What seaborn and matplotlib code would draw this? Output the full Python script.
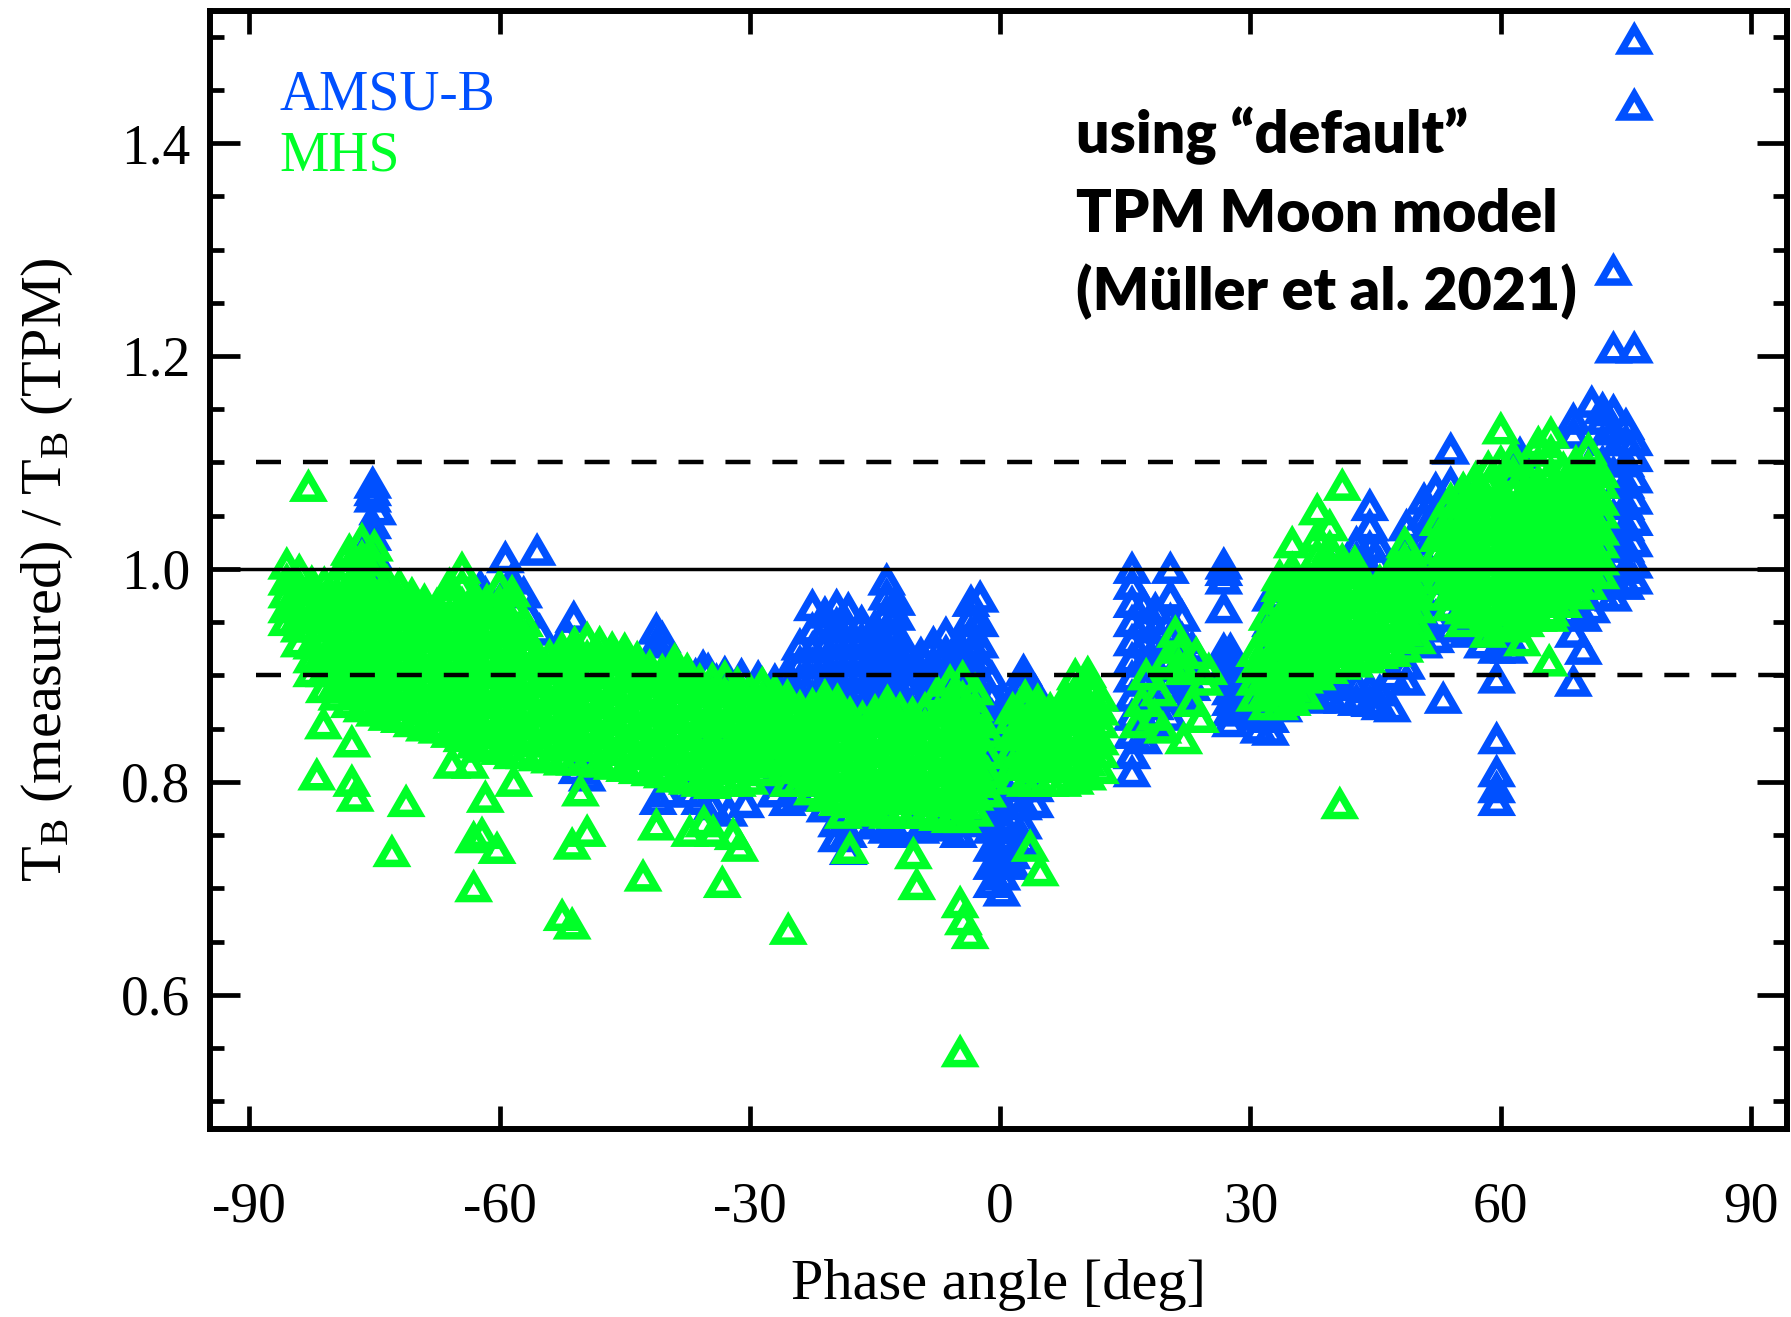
import matplotlib
matplotlib.use("Agg")
import matplotlib.pyplot as plt
from matplotlib.path import Path
from matplotlib.ticker import MultipleLocator, FormatStrFormatter
import pandas as pd
import seaborn as sns

# ---------------------------------------------------------------------------
# Moon intrusions: phase angle [deg] of each event and the T_B ratios
# (measured / TPM) obtained at that phase angle.
# ---------------------------------------------------------------------------
amsu_phase = [
    -75.2, -74.6,
    -27.0, -25.5, -24.0, -22.5, -21.0, -19.6, -18.2, -16.6, -15.0, -13.6,
    -12.4, -11.0, -9.5, -8.0, -6.5, -5.0, -3.5, -2.4, -1.0, 0.2, 1.4, 2.8, 4.2,
    15.8, 17.2, 18.6, 20.4, 21.8, 23.0, 26.8, 27.6, 28.6,
    31.0, 32.4, 34.0, 36.0, 38.0, 39.5, 41.0, 42.7, 44.3, 45.5, 47.0, 48.7,
    50.8, 52.2, 54.0, 56.0, 57.8, 59.5, 61.0, 62.3,
    68.7, 69.9, 70.9, 72.2, 73.5, 75.0, 76.0,
]
amsu_ratio = [
    [0.992, 1.000, 1.015, 1.031, 1.042, 1.067, 1.073, 1.080],
    [0.996, 1.055],
    [0.790, 0.805, 0.880, 0.895],
    [0.782, 0.800, 0.886, 0.902],
    [0.786, 0.880, 0.896, 0.912, 0.928],
    [0.800, 0.880, 0.895, 0.910, 0.925, 0.943, 0.965],
    [0.776, 0.880, 0.896, 0.912, 0.928, 0.944, 0.958],
    [0.748, 0.762, 0.885, 0.900, 0.916, 0.932, 0.948, 0.965],
    [0.736, 0.752, 0.770, 0.880, 0.896, 0.912, 0.928, 0.944, 0.962],
    [0.760, 0.870, 0.886, 0.902, 0.918, 0.934, 0.950],
    [0.762, 0.870, 0.886, 0.902, 0.918, 0.934, 0.946],
    [0.756, 0.880, 0.896, 0.912, 0.928, 0.944, 0.960, 0.975, 0.989],
    [0.752, 0.876, 0.892, 0.908, 0.924, 0.940, 0.956, 0.970],
    [0.760, 0.872, 0.888, 0.904, 0.918],
    [0.756, 0.872, 0.888, 0.904, 0.920],
    [0.760, 0.880, 0.896, 0.912, 0.930],
    [0.758, 0.890, 0.906, 0.922, 0.939],
    [0.752, 0.900, 0.915, 0.930],
    [0.762, 0.892, 0.908, 0.924, 0.940, 0.955, 0.969],
    [0.775, 0.860, 0.880, 0.900, 0.915, 0.930, 0.950, 0.973],
    [0.705, 0.722, 0.739, 0.756, 0.772, 0.790, 0.808, 0.826, 0.844, 0.862, 0.880, 0.898],
    [0.697, 0.712, 0.728, 0.745, 0.762, 0.780, 0.798, 0.816, 0.834, 0.852, 0.870],
    [0.722, 0.732, 0.748, 0.765, 0.785, 0.802, 0.820, 0.840, 0.860, 0.878],
    [0.745, 0.760, 0.778, 0.795, 0.862, 0.878, 0.892, 0.904],
    [0.780, 0.795, 0.870, 0.885],
    [0.809, 0.826, 0.845, 0.862, 0.880, 0.898, 0.915, 0.932, 0.950, 0.968, 0.985, 1.000],
    [0.840, 0.858, 0.876, 0.894, 0.912, 0.930, 0.948, 0.966],
    [0.855, 0.872, 0.890, 0.908, 0.926, 0.944, 0.962],
    [0.862, 0.880, 0.898, 0.916, 0.934, 0.952, 0.974, 1.000],
    [0.880, 0.898, 0.916, 0.934, 0.955],
    [0.890, 0.908, 0.926],
    [0.905, 0.924, 0.963, 0.990, 0.998, 1.004],
    [0.856, 0.866, 0.876, 0.886, 0.896, 0.906, 0.916, 0.924],
    [0.870, 0.885, 0.900],
    [0.850, 0.862, 0.875, 0.888, 0.900],
    [0.848, 0.860, 0.880, 0.900, 0.925, 0.950, 0.974],
    [0.870, 0.885, 0.900, 0.935, 0.952],
    [0.880, 0.895, 0.960, 0.972],
    [0.878, 0.892, 0.975, 0.990],
    [0.880, 0.895, 1.005],
    [0.878, 0.890, 1.000],
    [0.876, 0.890, 1.010, 1.024],
    [0.875, 0.888, 1.000, 1.020, 1.040, 1.059],
    [0.872, 0.885, 1.005, 1.020],
    [0.870, 0.900, 0.995],
    [0.895, 0.910, 1.020, 1.040],
    [0.930, 0.950, 0.970, 0.990, 1.010, 1.030, 1.050, 1.065],
    [0.935, 0.955, 0.975, 0.995, 1.015, 1.035, 1.055, 1.075],
    [0.945, 0.965, 1.060, 1.080, 1.112],
    [0.940, 0.955, 1.070],
    [0.930, 0.945],
    [0.782, 0.794, 0.809, 0.840, 0.897, 0.925, 0.940],
    [0.925, 0.935],
    [1.095, 1.108],
    [0.894, 0.940, 0.960, 1.127, 1.140],
    [0.924, 0.955, 0.975],
    [0.963, 0.985, 1.156],
    [0.975, 0.990, 1.005, 1.020, 1.040, 1.060, 1.080, 1.100, 1.120, 1.140, 1.150],
    [0.974, 0.990, 1.010, 1.030, 1.050, 1.070, 1.090, 1.110, 1.130, 1.148, 1.207, 1.280],
    [0.985, 1.000, 1.020, 1.040, 1.060, 1.080, 1.100, 1.120, 1.135],
    [0.990, 1.005, 1.025, 1.045, 1.065, 1.085, 1.105, 1.120, 1.207, 1.435, 1.497],
]
# isolated AMSU-B measurements
amsu_single_phase = [
    -62.3, -61.7, -60.7, -60.0, -59.3, -58.5, -57.1, -56.5, -55.5, -55.2,
    -52.0, -51.1, -50.7, -49.5, -41.2, -41.2, -41.0, -41.0, -40.5, -40.0,
    -39.5, -37.0, -36.5, -36.0, -35.6, -35.0, -35.0, -34.5, -34.0, -34.0,
    -33.0, -33.0, -32.5, -31.0, -30.5, -29.0, 53.1,
]
amsu_single_ratio = [
    0.983, 0.977, 0.966, 0.958, 1.010, 0.990, 0.977, 0.958, 1.017, 0.942,
    0.940, 0.954, 0.812, 0.805, 0.930, 0.943, 0.783, 0.918, 0.935, 0.790,
    0.914, 0.790, 0.900, 0.783, 0.908, 0.860, 0.905, 0.778, 0.850, 0.895,
    0.885, 0.902, 0.772, 0.900, 0.780, 0.898, 0.878,
]

mhs_phase = [
    -85.5, -84.0, -82.5, -81.0, -79.5, -78.0, -76.5, -75.0, -73.5, -72.0,
    -70.5, -69.0, -67.5, -66.0, -64.5, -63.0, -61.5, -60.0, -58.5, -57.0,
    -55.5, -54.0, -52.5, -51.0, -49.5, -48.0, -46.5, -45.0, -43.5, -42.0,
    -40.5, -39.0, -37.5, -36.0, -34.5, -33.0, -31.5, -30.0, -28.5, -27.0,
    -25.5, -24.0, -22.5, -21.0, -19.5, -18.0, -16.5, -15.0, -13.5, -12.0,
    -10.5, -9.0, -7.5, -6.0, -4.5, -3.0, -1.5, 1.5, 3.0, 4.5,
    6.0, 7.5, 9.0, 10.5, 12.0,
    30.5, 32.0, 33.5, 35.0, 36.5, 38.0, 39.5, 41.0, 42.5, 44.0,
    45.5, 47.0, 48.5, 50.0,
    52.5, 54.0, 55.5, 57.0, 58.5, 60.0, 61.5, 63.0, 64.5, 66.0,
    67.5, 69.0, 70.5, 72.0,
]
mhs_ratio = [
    [0.951, 0.963, 0.977, 0.989, 1.004],
    [0.931, 0.945, 0.956, 0.971, 0.983, 0.998],
    [0.903, 0.916, 0.929, 0.945, 0.957, 0.972, 0.987],
    [0.888, 0.903, 0.916, 0.932, 0.945, 0.961, 0.972, 0.986],
    [0.881, 0.893, 0.909, 0.921, 0.937, 0.949, 0.965, 0.977, 0.992],
    [0.874, 0.889, 0.901, 0.917, 0.929, 0.945, 0.957, 0.973, 0.985, 1.003, 1.017],
    [0.870, 0.883, 0.899, 0.911, 0.927, 0.939, 0.955, 0.967, 0.983, 0.995, 1.011, 1.027],
    [0.866, 0.881, 0.893, 0.909, 0.921, 0.937, 0.949, 0.965, 0.977, 0.993, 1.007, 1.021],
    [0.862, 0.875, 0.891, 0.903, 0.919, 0.931, 0.947, 0.959, 0.975, 0.988],
    [0.860, 0.873, 0.889, 0.901, 0.917, 0.929, 0.945, 0.957, 0.971, 0.984],
    [0.856, 0.871, 0.883, 0.899, 0.911, 0.927, 0.939, 0.955, 0.965, 0.976],
    [0.852, 0.867, 0.879, 0.895, 0.907, 0.923, 0.935, 0.951, 0.961, 0.970],
    [0.850, 0.863, 0.879, 0.891, 0.907, 0.919, 0.935, 0.947, 0.959, 0.966],
    [0.846, 0.861, 0.873, 0.889, 0.901, 0.917, 0.929, 0.945, 0.957, 0.973, 0.985],
    [0.842, 0.855, 0.871, 0.883, 0.899, 0.911, 0.927, 0.939, 0.955, 0.967, 0.984, 1.000],
    [0.836, 0.851, 0.863, 0.879, 0.891, 0.907, 0.919, 0.935, 0.947, 0.963, 0.975],
    [0.832, 0.845, 0.861, 0.873, 0.889, 0.901, 0.917, 0.929, 0.945, 0.957, 0.970],
    [0.830, 0.845, 0.857, 0.873, 0.885, 0.901, 0.913, 0.929, 0.941, 0.957, 0.969, 0.984],
    [0.826, 0.839, 0.855, 0.867, 0.883, 0.895, 0.911, 0.923, 0.939, 0.951, 0.967, 0.978],
    [0.826, 0.841, 0.853, 0.869, 0.881, 0.897, 0.909, 0.925, 0.937, 0.950],
    [0.824, 0.837, 0.853, 0.865, 0.881, 0.893, 0.909, 0.920],
    [0.822, 0.837, 0.849, 0.865, 0.877, 0.893, 0.905, 0.918],
    [0.820, 0.833, 0.849, 0.861, 0.877, 0.889, 0.905, 0.915, 0.925],
    [0.820, 0.835, 0.847, 0.863, 0.875, 0.891, 0.903, 0.919, 0.930],
    [0.820, 0.833, 0.849, 0.861, 0.877, 0.889, 0.905, 0.917, 0.934],
    [0.818, 0.833, 0.845, 0.861, 0.873, 0.889, 0.901, 0.917, 0.930],
    [0.816, 0.829, 0.845, 0.857, 0.873, 0.885, 0.901, 0.913, 0.925],
    [0.814, 0.829, 0.841, 0.857, 0.869, 0.885, 0.897, 0.913, 0.924],
    [0.812, 0.825, 0.841, 0.853, 0.869, 0.881, 0.897, 0.909, 0.916],
    [0.810, 0.825, 0.837, 0.853, 0.865, 0.881, 0.893, 0.908],
    [0.808, 0.821, 0.837, 0.849, 0.865, 0.877, 0.893, 0.904],
    [0.804, 0.819, 0.831, 0.847, 0.859, 0.875, 0.887, 0.903, 0.914],
    [0.802, 0.815, 0.831, 0.843, 0.859, 0.871, 0.887, 0.898, 0.905],
    [0.800, 0.815, 0.827, 0.843, 0.855, 0.871, 0.883, 0.895],
    [0.798, 0.811, 0.827, 0.839, 0.855, 0.867, 0.883, 0.896],
    [0.800, 0.815, 0.827, 0.843, 0.855, 0.871, 0.883, 0.898],
    [0.800, 0.813, 0.829, 0.841, 0.857, 0.869, 0.885, 0.892],
    [0.802, 0.817, 0.829, 0.845, 0.857, 0.873, 0.886],
    [0.810, 0.823, 0.839, 0.851, 0.867, 0.879, 0.892],
    [0.820, 0.835, 0.847, 0.863, 0.875, 0.885],
    [0.812, 0.825, 0.841, 0.853, 0.869, 0.880],
    [0.800, 0.815, 0.827, 0.843, 0.855, 0.870],
    [0.792, 0.805, 0.821, 0.833, 0.849, 0.861, 0.872],
    [0.786, 0.801, 0.813, 0.829, 0.841, 0.857, 0.869, 0.880],
    [0.782, 0.795, 0.811, 0.823, 0.839, 0.851, 0.867, 0.876],
    [0.780, 0.795, 0.807, 0.823, 0.835, 0.851, 0.864],
    [0.776, 0.789, 0.805, 0.817, 0.833, 0.845, 0.860],
    [0.772, 0.787, 0.799, 0.815, 0.827, 0.843, 0.855, 0.866],
    [0.770, 0.783, 0.799, 0.811, 0.827, 0.839, 0.855, 0.867, 0.875],
    [0.770, 0.785, 0.797, 0.813, 0.825, 0.841, 0.853, 0.868],
    [0.770, 0.783, 0.799, 0.811, 0.827, 0.839, 0.855, 0.864],
    [0.770, 0.785, 0.797, 0.813, 0.825, 0.841, 0.853, 0.868],
    [0.768, 0.781, 0.797, 0.809, 0.825, 0.837, 0.853, 0.865, 0.884],
    [0.766, 0.781, 0.793, 0.809, 0.821, 0.837, 0.849, 0.865, 0.877, 0.894],
    [0.766, 0.779, 0.795, 0.807, 0.823, 0.835, 0.851, 0.863, 0.879, 0.898],
    [0.772, 0.787, 0.799, 0.815, 0.827, 0.843, 0.855, 0.871, 0.886],
    [0.790, 0.808, 0.826, 0.846],
    [0.802, 0.815, 0.831, 0.843, 0.859, 0.868],
    [0.800, 0.815, 0.827, 0.843, 0.855, 0.871, 0.880],
    [0.800, 0.813, 0.829, 0.841, 0.857, 0.869, 0.876],
    [0.800, 0.815, 0.827, 0.843, 0.855, 0.868],
    [0.800, 0.813, 0.829, 0.841, 0.857, 0.869, 0.876],
    [0.802, 0.817, 0.829, 0.845, 0.857, 0.873, 0.885, 0.900],
    [0.806, 0.819, 0.835, 0.847, 0.863, 0.875, 0.891, 0.902],
    [0.812, 0.827, 0.839, 0.855, 0.867, 0.880],
    [0.880, 0.895, 0.907, 0.922],
    [0.872, 0.885, 0.901, 0.913, 0.929, 0.941, 0.956],
    [0.872, 0.887, 0.899, 0.915, 0.927, 0.943, 0.955, 0.971, 0.983, 0.993],
    [0.876, 0.889, 0.905, 0.917, 0.933, 0.945, 0.961, 0.973, 0.987, 1.000, 1.024],
    [0.882, 0.897, 0.909, 0.925, 0.937, 0.953, 0.965, 0.979, 0.992],
    [0.900, 0.913, 0.929, 0.941, 0.957, 0.969, 0.985, 0.997, 1.013, 1.030, 1.055],
    [0.906, 0.921, 0.933, 0.949, 0.961, 0.977, 0.989, 1.005, 1.020, 1.040],
    [0.910, 0.923, 0.939, 0.951, 0.967, 0.979, 0.995, 1.008, 1.078],
    [0.912, 0.927, 0.939, 0.955, 0.967, 0.983, 0.995, 1.006],
    [0.916, 0.929, 0.945, 0.957, 0.973, 0.984],
    [0.920, 0.935, 0.947, 0.963, 0.975, 0.988],
    [0.922, 0.935, 0.951, 0.963, 0.979, 0.991, 1.000],
    [0.926, 0.941, 0.953, 0.969, 0.981, 0.997, 1.009, 1.024],
    [0.934, 0.947, 0.963, 0.975, 0.991, 1.002],
    [0.975, 0.990, 1.002, 1.018, 1.030, 1.045],
    [0.965, 0.978, 0.994, 1.006, 1.022, 1.034, 1.050, 1.065],
    [0.962, 0.977, 0.989, 1.005, 1.017, 1.033, 1.045, 1.061, 1.075],
    [0.958, 0.971, 0.987, 0.999, 1.015, 1.027, 1.043, 1.055, 1.071, 1.085],
    [0.952, 0.967, 0.979, 0.995, 1.007, 1.023, 1.035, 1.051, 1.063, 1.079, 1.095],
    [0.950, 0.963, 0.979, 0.991, 1.007, 1.019, 1.035, 1.047, 1.063, 1.075, 1.100, 1.131],
    [0.945, 0.960, 0.972, 0.988, 1.000, 1.016, 1.028, 1.044, 1.056, 1.072, 1.090, 1.105],
    [0.950, 0.963, 0.979, 0.991, 1.007, 1.019, 1.035, 1.047, 1.063, 1.075, 1.090],
    [0.955, 0.970, 0.982, 0.998, 1.010, 1.026, 1.038, 1.054, 1.066, 1.082, 1.100, 1.118],
    [0.960, 0.973, 0.989, 1.001, 1.017, 1.029, 1.045, 1.057, 1.073, 1.090, 1.110, 1.127],
    [0.968, 0.983, 0.995, 1.011, 1.023, 1.039, 1.051, 1.067, 1.079, 1.094],
    [0.976, 0.989, 1.005, 1.017, 1.033, 1.045, 1.061, 1.073, 1.088, 1.100],
    [0.985, 1.000, 1.012, 1.028, 1.040, 1.056, 1.068, 1.084, 1.096, 1.112],
    [0.995, 1.008, 1.024, 1.036, 1.052, 1.064, 1.080, 1.090],
]
# isolated MHS measurements
mhs_single_phase = [
    -82.9, -81.1, -81.9, -77.7, -77.7, -77.3, -71.2, -72.9, -65.7, -63.5,
    -63.1, -63.1, -62.1, -60.3, -61.7, -58.3, -52.5, -51.3, -50.3, -49.5,
    -51.3, -41.2, -42.8, -37.2, -35.5, -34.4, -33.3, -32.0, -31.2, -25.4,
    -25.4, -18.8, -18.0, -10.4, -10.0, -4.8, -4.4, -3.6, -4.8, 3.6,
    4.8, 16.5, 17.0, 17.5, 18.5, 19.0, 19.5, 20.0, 21.0, 21.4,
    21.5, 22.0, 22.0, 23.0, 23.5, 24.0, 24.5, 25.0, 40.7, 55.5,
    58.5, 60.0, 62.6, 65.8, 65.9,
]
mhs_single_ratio = [
    1.077, 0.854, 0.806, 0.837, 0.800, 0.786, 0.781, 0.734, 0.817, 0.817,
    0.701, 0.747, 0.751, 0.737, 0.785, 0.800, 0.674, 0.666, 0.791, 0.753,
    0.741, 0.759, 0.711, 0.753, 0.762, 0.753, 0.705, 0.750, 0.739, 0.661,
    0.800, 0.770, 0.737, 0.732, 0.703, 0.686, 0.670, 0.657, 0.546, 0.739,
    0.716, 0.855, 0.875, 0.900, 0.862, 0.885, 0.850, 0.915, 0.940, 0.910,
    0.925, 0.905, 0.840, 0.875, 0.920, 0.860, 0.895, 0.905, 0.779, 0.950,
    0.940, 0.946, 0.932, 0.913, 0.955,
]

ref_solid = [1.0]
ref_dashed = [0.9, 1.1]
note_lines = ["using \u201cdefault\u201d", "TPM Moon model", "(M\u00fcller et al. 2021)"]

AMSU_COLOR = "#0050FF"
MHS_COLOR = "#00FF28"


def stacked_frame(phases, ratios, single_phase, single_ratio):
    rows = [(p, r) for p, rs in zip(phases, ratios) for r in rs]
    rows += list(zip(single_phase, single_ratio))
    return pd.DataFrame(rows, columns=["phase", "ratio"])


amsu = stacked_frame(amsu_phase, amsu_ratio, amsu_single_phase, amsu_single_ratio)
mhs = stacked_frame(mhs_phase, mhs_ratio, mhs_single_phase, mhs_single_ratio)

sns.set_theme(style="ticks")
plt.rcParams.update({
    "font.family": ["Liberation Serif", "DejaVu Serif"],
    "mathtext.fontset": "custom",
    "mathtext.rm": "Liberation Serif",
    "mathtext.it": "Liberation Serif:italic",
    "mathtext.bf": "Liberation Serif:bold",
    "axes.unicode_minus": False,
    "axes.linewidth": 4.3,
    "axes.edgecolor": "black",
    "lines.scale_dashes": False,
})

fig = plt.figure(figsize=(17.91, 13.17), dpi=100, facecolor="white")
ax = fig.add_axes([0.11725, 0.14275, 0.88052, 0.8489])
ax.set_facecolor("white")

# equilateral open triangle, as used by the IDL symbol set
triangle = Path(
    [(-1.0, -0.866), (1.0, -0.866), (0.0, 0.866), (-1.0, -0.866)],
    [Path.MOVETO, Path.LINETO, Path.LINETO, Path.CLOSEPOLY],
)
marker_kw = dict(marker=triangle, s=350, facecolor="none", linewidth=5.4,
                 joinstyle="miter", legend=False, ax=ax, zorder=3)
sns.scatterplot(data=amsu, x="phase", y="ratio", edgecolor=AMSU_COLOR, **marker_kw)
sns.scatterplot(data=mhs, x="phase", y="ratio", edgecolor=MHS_COLOR, **marker_kw)

for level in ref_solid:
    ax.axhline(level, color="black", linewidth=2.5, zorder=4)
ax.hlines(ref_dashed, -89.2, 100, colors="black", linewidth=3.2,
          linestyles=[(0, (18, 15.8))], zorder=4)

ax.set_xlim(-94.7, 94.3)
ax.set_ylim(0.474, 1.524)
ax.xaxis.set_major_locator(MultipleLocator(30))
ax.yaxis.set_major_locator(MultipleLocator(0.2))
ax.yaxis.set_minor_locator(MultipleLocator(0.05))
ax.yaxis.set_major_formatter(FormatStrFormatter("%.1f"))
ax.tick_params(which="both", direction="in", top=True, right=True,
               width=3.4, color="black", labelcolor="black")
ax.tick_params(axis="x", which="major", length=16.5, pad=38, labelsize=40)
ax.tick_params(axis="x", which="minor", bottom=False, top=False)
ax.tick_params(axis="y", which="major", length=21.6, pad=14, labelsize=40)
ax.tick_params(axis="y", which="minor", length=10)
for side in ax.spines.values():
    side.set_linewidth(4.3)
    side.set_color("black")

ax.set_xlabel("Phase angle [deg]", fontsize=42, color="black")
ax.xaxis.set_label_coords(0.5, -0.1163)
ax.set_ylabel(r"T$_{\mathrm{B}}$ (measured) / T$_{\mathrm{B}}$ (TPM)",
              fontsize=42, color="black")
ax.yaxis.set_label_coords(-0.0855, 0.5)

fig.text(0.1558, 0.9165, "AMSU-B", color=AMSU_COLOR, fontsize=40, va="baseline")
fig.text(0.1558, 0.8709, "MHS", color=MHS_COLOR, fontsize=40, va="baseline")
for line, y in zip(note_lines, [0.8838, 0.8238, 0.7646]):
    fig.text(0.6008, y, line, family=["Lato", "DejaVu Sans"], fontweight="heavy",
             fontsize=42.5, color="black", va="baseline")

fig.savefig("out.png", dpi=100, facecolor="white")
